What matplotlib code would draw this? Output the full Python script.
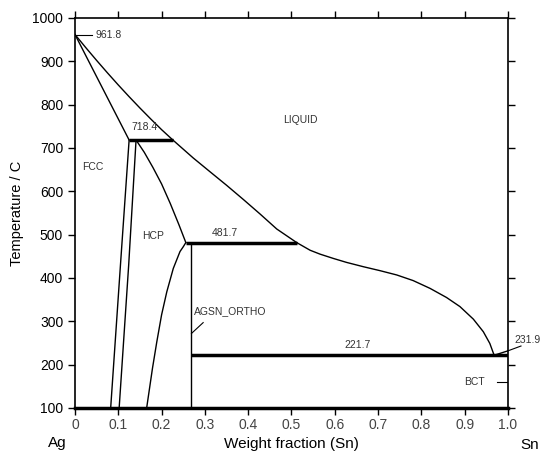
import numpy as np
import matplotlib.pyplot as plt

plt.rcParams['font.family'] = ['Liberation Sans', 'DejaVu Sans']

# boundary lines of the Ag-Sn phase diagram (weight fraction Sn, temperature C)
liq_ag_x = [0.0, 0.025, 0.05, 0.075, 0.10, 0.125, 0.15, 0.175, 0.20, 0.226]
liq_ag_t = [961.8, 931.5, 902, 873.3, 845.4, 818.4, 792.2, 766.9, 742.3, 718.4]

liq_mid_x = [0.226, 0.273, 0.312, 0.35, 0.389, 0.427, 0.466, 0.512]
liq_mid_t = [718.4, 677, 645, 614, 581, 548, 513, 481.7]

liq_sn_x = [0.512, 0.543, 0.566, 0.597, 0.627, 0.666, 0.704, 0.743, 0.781, 0.820,
            0.858, 0.889, 0.920, 0.943, 0.958, 0.968]
liq_sn_t = [481.7, 464, 455, 445, 436, 426, 417, 407, 394, 376,
            355, 334, 305, 276, 249, 221.7]

sol_fcc_x = [0.0, 0.125]
sol_fcc_t = [961.8, 718.4]

fcc_solvus_x = [0.125, 0.105, 0.0824]
fcc_solvus_t = [718.4, 430, 100]

hcp_left_x = [0.141, 0.124, 0.102]
hcp_left_t = [718.4, 430, 100]

hcp_right_x = [0.141, 0.160, 0.180, 0.200, 0.220, 0.240, 0.256]
hcp_right_t = [718.4, 690, 655, 617, 572, 523, 481.7]

ortho_left_x = [0.256, 0.250, 0.2425, 0.227, 0.212, 0.200, 0.189, 0.179, 0.1655]
ortho_left_t = [481.7, 472, 461, 422, 368, 315, 253, 192, 100]

sn_end_x = [0.968, 1.0]
sn_end_t = [221.7, 231.9]

ortho_x = 0.268

# invariant lines: (temperature, x start, x end)
iso_t = [718.4, 481.7, 221.7]
iso_x0 = [0.125, 0.256, 0.268]
iso_x1 = [0.226, 0.512, 1.0]

fig = plt.figure(figsize=(5.45, 4.61), dpi=100)
ax = fig.add_axes([0.1376, 0.115, 0.7945, 0.846])

lw = 1.0
for xs, ts in [(liq_ag_x, liq_ag_t), (liq_mid_x, liq_mid_t), (liq_sn_x, liq_sn_t),
               (sol_fcc_x, sol_fcc_t), (fcc_solvus_x, fcc_solvus_t),
               (hcp_left_x, hcp_left_t), (hcp_right_x, hcp_right_t),
               (ortho_left_x, ortho_left_t), (sn_end_x, sn_end_t)]:
    ax.plot(xs, ts, 'k', lw=lw, solid_joinstyle='round')
ax.plot([ortho_x, ortho_x], [100, 481.7], 'k', lw=lw)

for t, x0, x1 in zip(iso_t, iso_x0, iso_x1):
    ax.plot([x0, x1], [t, t], 'k', lw=2.5, solid_capstyle='butt')

# labels
tc = '#333333'
fs = 7.5
ax.plot([0.0, 0.04], [961.8, 961.8], 'k', lw=0.8)
ax.text(0.048, 961.8, '961.8', fontsize=fs, color=tc, va='center', ha='left')
ax.text(0.16, 749, '718.4', fontsize=fs, color=tc, va='center', ha='center')
ax.text(0.346, 503, '481.7', fontsize=fs, color=tc, va='center', ha='center')
ax.text(0.652, 245, '221.7', fontsize=fs, color=tc, va='center', ha='center')
ax.text(1.045, 257, '231.9', fontsize=fs, color=tc, va='center', ha='center', clip_on=False)
ax.plot([1.0, 1.03], [231.9, 243], 'k', lw=0.8, clip_on=False)
ax.text(0.521, 765, 'LIQUID', fontsize=fs, color=tc, va='center', ha='center')
ax.text(0.042, 657, 'FCC', fontsize=fs, color=tc, va='center', ha='center')
ax.text(0.181, 497, 'HCP', fontsize=fs, color=tc, va='center', ha='center')
ax.text(0.2755, 324, 'AGSN_ORTHO', fontsize=fs, color=tc, va='center', ha='left')
ax.plot([0.269, 0.296], [272, 297], 'k', lw=0.8)
ax.text(0.923, 159, 'BCT', fontsize=fs, color=tc, va='center', ha='center')
ax.plot([0.974, 1.0], [160, 160], 'k', lw=0.8)

ax.set_xlim(0, 1.0)
ax.set_ylim(100, 1000)
ax.set_xticks(np.arange(0, 1.01, 0.1))
ax.set_xticklabels(['0', '0.1', '0.2', '0.3', '0.4', '0.5', '0.6', '0.7', '0.8', '0.9', '1.0'],
                   color='#444444')
ax.set_yticks(np.arange(100, 1001, 100))
ax.tick_params(axis='both', direction='out', length=5, width=1, labelsize=10)
ax.tick_params(top=True, right=True, labelright=False, labeltop=False)
ax.tick_params(axis='x', pad=2)
for s in ['top', 'left', 'right']:
    ax.spines[s].set_linewidth(1.2)
ax.spines['bottom'].set_linewidth(2.5)

ax.set_ylabel('Temperature / C', fontsize=10.5, labelpad=6)
ax.set_xlabel('Weight fraction (Sn)', fontsize=11, labelpad=4)
tr = ax.get_xaxis_transform()
ax.text(-0.04, -0.09, 'Ag', fontsize=11, transform=tr, ha='center', va='center')
ax.text(1.05, -0.095, 'Sn', fontsize=11, transform=tr, ha='center', va='center')

fig.savefig('out.png', dpi=100)
